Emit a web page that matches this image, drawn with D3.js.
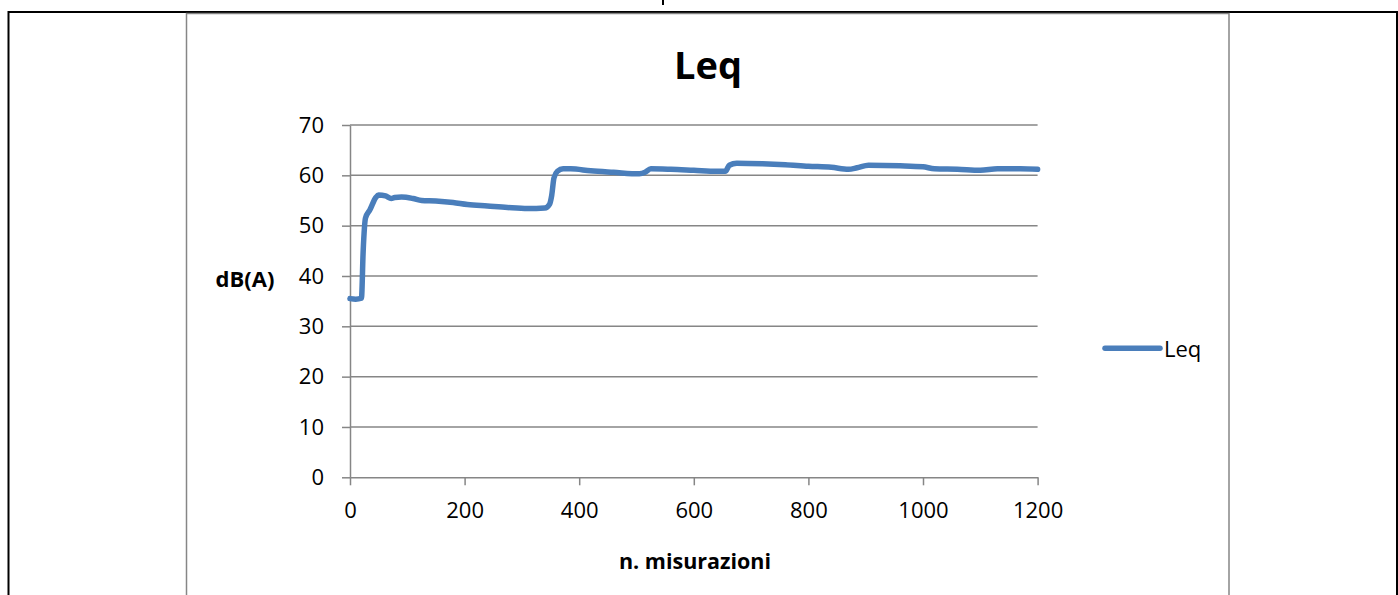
<!DOCTYPE html>
<html>
<head>
<meta charset="utf-8">
<script src="https://cdn.jsdelivr.net/npm/d3@7"></script>
<style>
    html, body { margin: 0; padding: 0; background: #fff; }
    svg { display: block; font-family: 'Open Sans', 'Liberation Sans', sans-serif; }
</style>
</head>
<body>
<svg id="chart" width="1398" height="595"></svg>
<script>
// n. misurazioni (sample index) and Leq in dB(A)
var samples = [0, 10, 20, 23, 27, 35, 45, 50, 62, 72, 78, 90, 110, 125, 150, 180, 205, 240, 275, 310,
    340, 348, 352, 356, 362, 372, 385, 420, 460, 505, 515, 525, 560, 600, 640, 655, 662, 675,
    720, 760, 800, 840, 870, 885, 905, 960, 1000, 1020, 1060, 1100, 1130, 1170, 1200];
var leq = [35.5, 35.4, 35.6, 45, 51.5, 53.2, 55.6, 56.1, 55.9, 55.4, 55.6, 55.7, 55.4, 55.0, 54.9, 54.6, 54.2, 53.9, 53.6, 53.4,
    53.5, 54.2, 56, 59.5, 60.8, 61.3, 61.3, 60.9, 60.6, 60.3, 60.6, 61.3, 61.2, 61, 60.8, 60.8, 62, 62.4,
    62.3, 62.1, 61.8, 61.6, 61.2, 61.5, 62, 61.9, 61.7, 61.3, 61.2, 61, 61.3, 61.3, 61.2];
var xTicks = [0, 200, 400, 600, 800, 1000, 1200];
var yTicks = [0, 10, 20, 30, 40, 50, 60, 70];
var seriesName = 'Leq';

var svg = d3.select('#chart');
var gray = '#868686';
var blue = '#4a7ebb';

// page table borders
svg.append('line').attr('x1', 8.5).attr('x2', 8.5).attr('y1', 11).attr('y2', 595)
    .attr('stroke', '#000').attr('stroke-width', 2);
svg.append('line').attr('x1', 8).attr('x2', 1398).attr('y1', 12).attr('y2', 12)
    .attr('stroke', '#000').attr('stroke-width', 2);
svg.append('line').attr('x1', 1397).attr('x2', 1397).attr('y1', 11).attr('y2', 595)
    .attr('stroke', '#000').attr('stroke-width', 2);
// tail of the caption letter above the table (only its descender shows)
svg.append('line').attr('x1', 663).attr('x2', 663).attr('y1', 0).attr('y2', 5)
    .attr('stroke', '#000').attr('stroke-width', 2);

// chart area frame
svg.append('rect').attr('x', 186.5).attr('y', 13.5).attr('width', 1042.5).attr('height', 600)
    .attr('fill', 'none').attr('stroke', gray).attr('stroke-width', 1.5);

var x = d3.scaleLinear().domain([0, 1200]).range([350, 1037.6]);
var y = d3.scaleLinear().domain([0, 70]).range([477.3, 125]);

// horizontal gridlines
svg.append('g').selectAll('line').data(yTicks.slice(1)).enter().append('line')
    .attr('x1', x(0)).attr('x2', x(1200))
    .attr('y1', function(d) { return y(d); }).attr('y2', function(d) { return y(d); })
    .attr('stroke', gray).attr('stroke-width', 1.5);

var yAxis = svg.append('g').attr('transform', 'translate(' + x(0) + ',0)')
    .call(d3.axisLeft(y).tickValues(yTicks).tickFormat(d3.format('d'))
        .tickSize(8).tickPadding(18).tickSizeOuter(0));
var xAxis = svg.append('g').attr('transform', 'translate(0,' + y(0) + ')')
    .call(d3.axisBottom(x).tickValues(xTicks).tickFormat(d3.format('d'))
        .tickSize(8).tickPadding(17).tickSizeOuter(0));

[yAxis, xAxis].forEach(function(ax) {
    ax.select('.domain').attr('stroke', gray).attr('stroke-width', 1.5);
    ax.selectAll('.tick line').attr('stroke', gray).attr('stroke-width', 1.5);
    ax.selectAll('.tick text').attr('fill', '#000').attr('font-size', 22)
        .style('font-family', "'Open Sans', sans-serif");
});

// the series
var line = d3.line()
    .x(function(d) { return x(d[0]); })
    .y(function(d) { return y(d[1]); })
    .curve(d3.curveMonotoneX);
svg.append('path').datum(d3.zip(samples, leq))
    .attr('d', line).attr('fill', 'none').attr('stroke', blue)
    .attr('stroke-width', 5.5).attr('stroke-linejoin', 'round').attr('stroke-linecap', 'round');

// titles
svg.append('text').attr('x', 708).attr('y', 79).attr('text-anchor', 'middle')
    .attr('font-size', 38).attr('font-weight', 'bold').text(seriesName);
svg.append('text').attr('x', 245).attr('y', 287).attr('text-anchor', 'middle')
    .attr('font-size', 22).attr('font-weight', 'bold').text('dB(A)');
svg.append('text').attr('x', 695).attr('y', 569).attr('text-anchor', 'middle')
    .attr('font-size', 21.5).attr('font-weight', 'bold').text('n. misurazioni');

// legend
svg.append('line').attr('x1', 1105).attr('x2', 1160).attr('y1', 348.3).attr('y2', 348.3)
    .attr('stroke', blue).attr('stroke-width', 5.5).attr('stroke-linecap', 'round');
svg.append('text').attr('x', 1164).attr('y', 356.7).attr('font-size', 22).text(seriesName);
</script>
</body>
</html>
